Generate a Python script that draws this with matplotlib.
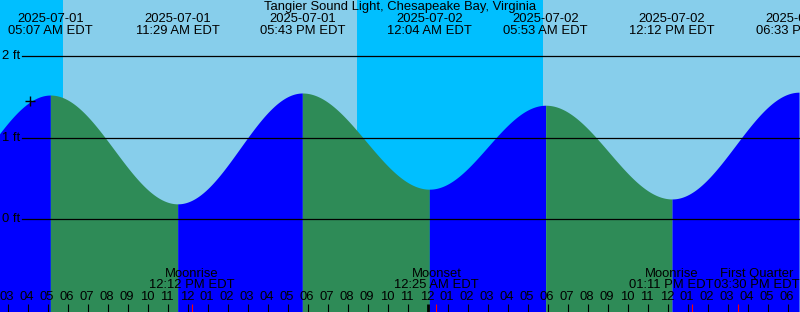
import numpy as np
import matplotlib
matplotlib.use('Agg')
import matplotlib.pyplot as plt
import matplotlib.transforms as mtransforms

plt.rcParams['font.family'] = ['Liberation Sans', 'DejaVu Sans']

# tide extremes, hours from 2025-07-01 00:00 EDT (first one is off the left edge)
tide_hours = [-1.1, 5.117, 11.483, 17.717, 24.067, 29.883, 36.2, 42.55]
tide_ft = [0.20, 1.525, 0.19, 1.55, 0.37, 1.40, 0.25, 1.56]
tide_dates = ['2025-07-01', '2025-07-01', '2025-07-01', '2025-07-02', '2025-07-02', '2025-07-02', '2025-07-02']
tide_times = ['05:07 AM EDT', '11:29 AM EDT', '05:43 PM EDT', '12:04 AM EDT', '05:53 AM EDT', '12:12 PM EDT', '06:33 PM EDT']

# moon events
moon_hours = [12.2, 24.417, 37.183, 39.5]
moon_names = ['Moonrise', 'Moonset', 'Moonrise', 'First Quarter']
moon_times = ['12:12 PM EDT', '12:25 AM EDT', '01:11 PM EDT', '03:30 PM EDT']
# labels that are pushed sideways so they don't collide (in hours)
moon_label_shift = [0, 0, -1.0, 0.95]

# sunrise / sunset
sunrise = [5.75, 29.75]
sunset = [20.45]

title = 'Tangier Sound Light, Chesapeake Bay, Virginia'
x0, x1 = 2.6, 42.6
y0, y1 = -1.137, 2.691
fs = 9.35

fig = plt.figure(figsize=(8, 3.12), dpi=100)
ax = fig.add_axes([0, 0, 1, 1])
ax.set_xlim(x0, x1)
ax.set_ylim(y0, y1)
ax.axis('off')

# day / night background
ax.axvspan(x0, sunrise[0], color='#00BFFF', lw=0)
ax.axvspan(sunrise[0], sunset[0], color='#87CEEB', lw=0)
ax.axvspan(sunset[0], sunrise[1], color='#00BFFF', lw=0)
ax.axvspan(sunrise[1], x1, color='#87CEEB', lw=0)

# tide curve, half-cosine between successive extremes
for i in range(len(tide_hours) - 1):
    ta, tb = tide_hours[i], tide_hours[i + 1]
    ha, hb = tide_ft[i], tide_ft[i + 1]
    t = np.linspace(ta, tb, 200)
    h = ha + (hb - ha) * (1 - np.cos(np.pi * (t - ta) / (tb - ta))) / 2
    col = '#0000FF' if hb > ha else '#2E8B57'
    ax.fill_between(t, y0 - 0.1, h, color=col, lw=0)

# datum lines
for v in [0, 1, 2]:
    ax.axhline(v, xmin=22 / 800, xmax=1, color='black', lw=0.9)
    ax.text(x0 + 2 / 20, v, '%d ft' % v, ha='left', va='center', fontsize=fs)

# current-ish mark
ax.plot([4.1], [1.45], marker='+', color='black', ms=7, mew=1.0)

trans = mtransforms.blended_transform_factory(ax.transData, ax.transAxes)

def fy(px):
    return 1 - px / 312

ax.text(0.5, fy(7), title, transform=ax.transAxes, ha='center', va='center', fontsize=fs)
for h, d, tm in zip(tide_hours[1:], tide_dates, tide_times):
    ax.text(h, fy(19.5), d, transform=trans, ha='center', va='center', fontsize=fs)
    ax.text(h, fy(31.5), tm, transform=trans, ha='center', va='center', fontsize=fs)

# hour ticks and labels
for hr in range(3, 43):
    lab = hr % 12
    if lab == 0:
        lab = 12
    ax.text(hr - 0.05, fy(297.5), '%02d' % lab, transform=trans, ha='center', va='center', fontsize=fs)
    ax.plot([hr, hr], [fy(303.5), 0], transform=trans, color='black',
            lw=2 if hr == 24 else 0.8, solid_capstyle='butt')

# moon events
for h, n, tm, dx in zip(moon_hours, moon_names, moon_times, moon_label_shift):
    ax.text(h + dx, fy(274), n, transform=trans, ha='center', va='center', fontsize=fs)
    ax.text(h + dx, fy(285.5), tm, transform=trans, ha='center', va='center', fontsize=fs)
    ax.plot([h, h], [fy(303.5), 0], transform=trans, color='red', lw=0.8, solid_capstyle='butt')

fig.savefig('out.png', dpi=100)
